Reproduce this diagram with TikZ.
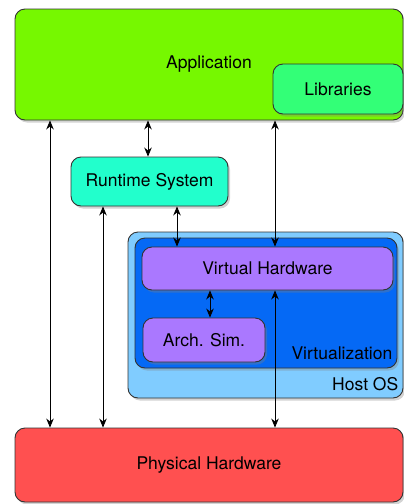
\documentclass[tikz,border=0pt]{standalone}
\usepackage{fontspec}
\setmainfont{TeX Gyre Heros}
\usetikzlibrary{arrows.meta, shadows}

\definecolor{appgreen}{RGB}{118,248,0}
\definecolor{libgreen}{RGB}{51,255,119}
\definecolor{rtcyan}{RGB}{34,255,204}
\definecolor{hostblue}{RGB}{128,204,255}
\definecolor{virtblue}{RGB}{5,105,245}
\definecolor{vhpurple}{RGB}{170,120,255}
\definecolor{physred}{RGB}{255,80,80}

\begin{document}
\begin{tikzpicture}[x=1pt, y=-1pt,
    box/.style={draw=black!80, line width=0.9pt, rounded corners=10pt, inner sep=0pt,
                drop shadow={opacity=0.35, shadow xshift=2pt, shadow yshift=-2.5pt},
                font=\fontsize{17.5}{20}\selectfont},
    tag/.style={anchor=south east, inner sep=0pt, font=\fontsize{17.5}{20}\selectfont},
    link/.style={{Stealth[length=9pt,width=7.5pt]}-{Stealth[length=9pt,width=7.5pt]}, line width=0.8pt}]
    \useasboundingbox (0,0) rectangle (404,504);

    % Layers:
    \node[box, fill=appgreen, minimum width=388pt, minimum height=111pt] (app) at (209,64.5) {Application};
    \node[box, fill=libgreen, minimum width=130pt, minimum height=50pt] (lib) at (338,89) {Libraries};
    \node[box, fill=rtcyan, minimum width=157pt, minimum height=49pt] (rt) at (149.5,181.5) {Runtime System};
    \node[box, fill=hostblue, minimum width=275pt, minimum height=166pt] (host) at (265.5,315) {};
    \node[box, fill=virtblue, minimum width=262pt, minimum height=130pt] (virt) at (266,303) {};
    \node[box, fill=vhpurple, minimum width=251pt, minimum height=43pt] (vh) at (267.5,268.5) {Virtual Hardware};
    \node[box, fill=vhpurple, minimum width=122pt, minimum height=44pt] (sim) at (204,340) {Arch. Sim.};
    \node[box, fill=physred, minimum width=388pt, minimum height=74pt] (phys) at (209,465) {Physical Hardware};

    \node[tag] (hostlbl) at ([xshift=-5pt, yshift=7pt]host.south east) {Host OS};
    \node[tag] (virtlbl) at ([xshift=-5pt, yshift=8pt]virt.south east) {Virtualization};

    % Arrows:
    \coordinate (ax) at (50,0);
    \coordinate (bx) at (103,0);
    \coordinate (cx) at (148,0);
    \coordinate (dx) at (177,0);
    \coordinate (ex) at (210,0);
    \coordinate (fx) at (275,0);
    \draw[link] (app.south -| ax) -- (phys.north -| ax);
    \draw[link] (rt.south -| bx) -- (phys.north -| bx);
    \draw[link] (app.south -| cx) -- (rt.north -| cx);
    \draw[link] (rt.south -| dx) -- (vh.north -| dx);
    \draw[link] (vh.south -| ex) -- (sim.north -| ex);
    \draw[link] (app.south -| fx) -- (vh.north -| fx);
    \draw[link] (vh.south -| fx) -- (phys.north -| fx);
\end{tikzpicture}
\end{document}
